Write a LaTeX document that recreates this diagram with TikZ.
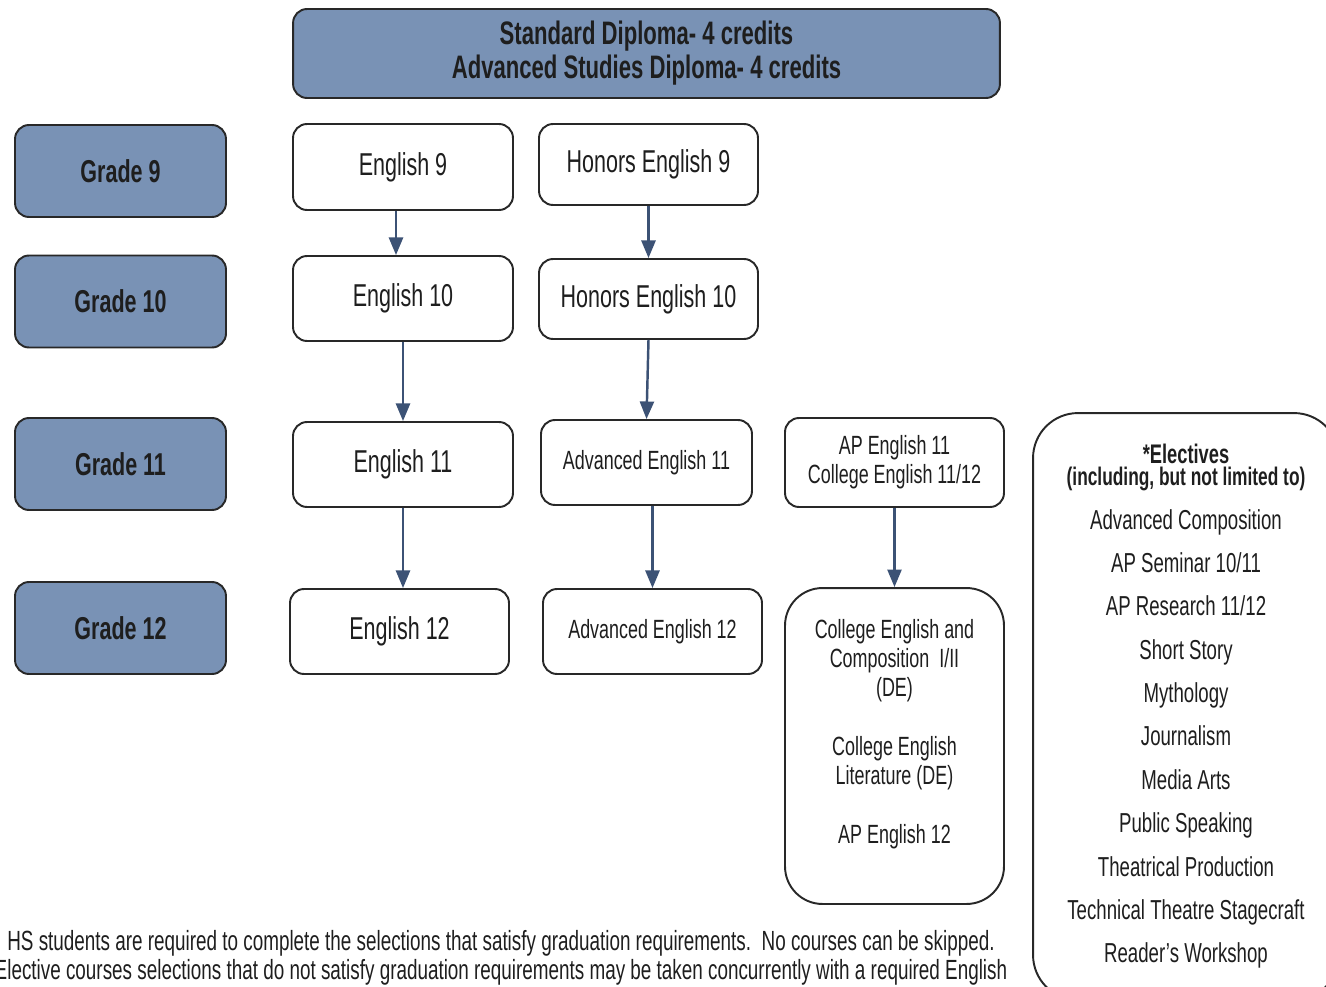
\documentclass[tikz,border=0pt]{standalone}
\usepackage{fontspec}
\setmainfont{Liberation Sans}[FakeStretch=0.68]
\usetikzlibrary{arrows.meta}
\definecolor{gfill}{RGB}{121,146,181}
\definecolor{bord}{RGB}{40,40,40}
\definecolor{arrc}{RGB}{60,82,117}
\definecolor{txt}{RGB}{30,30,30}
\tikzset{
  boxbase/.style={draw=bord, line width=1.1pt, rounded corners=0.28cm, inner sep=0pt, align=center, text=txt},
  grade/.style={boxbase, fill=gfill, minimum width=4.22cm, minimum height=1.84cm, font=\fontsize{18}{20}\selectfont\bfseries},
  course/.style={boxbase, fill=white, minimum width=4.4cm, minimum height=1.7cm, font=\fontsize{18}{20}\selectfont},
  smallcourse/.style={course, font=\fontsize{15}{16.6}\selectfont},
  arr/.style={draw=arrc, line width=1.4pt, -{Triangle[width=8pt,length=10pt]}},
}
\begin{document}
\begin{tikzpicture}[x=0.02cm,y=-0.02cm]
\useasboundingbox (0,0) rectangle (1326,987);
\clip (0,0) rectangle (1326,987);

% header
\node[boxbase, fill=gfill, minimum width=14.14cm, minimum height=1.78cm,
      font=\fontsize{18.5}{19.3}\selectfont\bfseries] (top) at (646.5,53.5)
      {Standard Diploma- 4 credits\\Advanced Studies Diploma- 4 credits};

% grades
\node[grade] (g9)  at (120.5,171)   {Grade 9};
\node[grade] (g10) at (120.5,301.5) {Grade 10};
\node[grade] (g11) at (120.5,464)   {Grade 11};
\node[grade] (g12) at (120.5,628)   {Grade 12};

% column 1
\node[course, minimum height=1.72cm] (e9)  at (403,167)   {English 9};
\node[course] (e10) at (403,298.5) {English 10};
\node[course] (e11) at (403,464.5) {English 11};
\node[course, minimum width=4.38cm] (e12) at (399.5,631.5) {English 12};

% column 2
\node[course, minimum width=4.38cm, minimum height=1.62cm] (h9)  at (648.5,164.5) {Honors English 9};
\node[course, minimum width=4.38cm, minimum height=1.6cm]  (h10) at (648.5,299)   {Honors English 10};
\node[smallcourse, minimum width=4.22cm] (a11) at (646.5,462.5) {Advanced English 11};
\node[smallcourse, minimum width=4.38cm] (a12) at (652.5,631.5) {Advanced English 12};

% column 3
\node[smallcourse, minimum width=4.38cm, minimum height=1.78cm] (ap11) at (894.5,462.5)
      {AP English 11\\College English 11/12};
\node[smallcourse, minimum width=4.38cm, minimum height=6.32cm, rounded corners=0.75cm,
      font=\fontsize{15}{16.7}\selectfont] (col) at (894.5,746)
      {College English and\\Composition~~I/II\\(DE)\\[16.7pt]College English\\Literature (DE)\\[16.7pt]AP English 12\\\mbox{}};

% electives
\node[boxbase, fill=white, minimum width=6.12cm, minimum height=11.74cm, rounded corners=0.9cm,
      font=\fontsize{15.6}{24.7}\selectfont] (elec) at (1186,706.5)
      {{\bfseries\fontsize{15.3}{24.7}\selectfont *Electives}\\[-12.3pt]
       {\bfseries\fontsize{14.5}{24.7}\selectfont (including, but not limited to)}\\
       Advanced Composition\\AP Seminar 10/11\\AP Research 11/12\\Short Story\\Mythology\\Journalism\\
       Media Arts\\Public Speaking\\Theatrical Production\\Technical Theatre Stagecraft\\Reader's Workshop};

% arrows
\draw[arr] ([xshift=-0.14cm]e9.south) -- ([xshift=-0.14cm]e9.south |- e10.north);
\draw[arr] (h9.south) -- (h9.south |- h10.north);
\draw[arr] (e10.south) -- (e10.south |- e11.north);
\draw[arr] (h10.south) -- (a11.north);
\draw[arr] (e11.south) -- (e11.south |- e12.north);
\draw[arr] (a12.north |- a11.south) -- (a12.north);
\draw[arr] (ap11.south) -- (ap11.south |- col.north);

% footnote
\node[align=center, text=txt, inner sep=0pt, font=\fontsize{15.8}{16.4}\selectfont] (note) at (501,958)
  {HS students are required to complete the selections that satisfy graduation requirements.~~No courses can be skipped.\\
   Elective courses selections that do not satisfy graduation requirements may be taken concurrently with a required English};
\end{tikzpicture}
\end{document}
